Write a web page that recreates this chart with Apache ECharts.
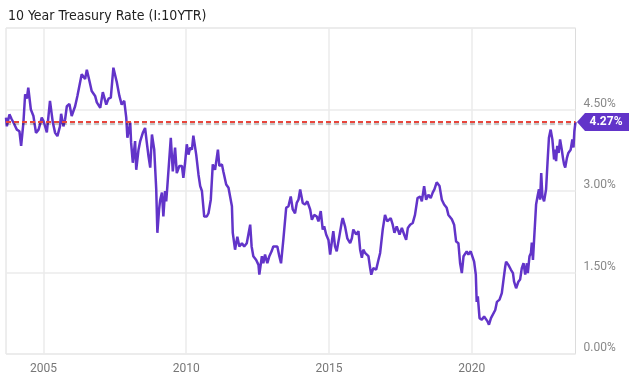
<!DOCTYPE html>
<html>
<head>
<meta charset="utf-8">
<script src="https://cdn.jsdelivr.net/npm/echarts@6/dist/echarts.min.js"></script>
<style>
html,body{margin:0;padding:0;background:#fff;}
#c{width:640px;height:382px;}
</style>
</head>
<body>
<div id="c"></div>
<script>
const title = "10 Year Treasury Rate (I:10YTR)";
const xTicks = [2005, 2010, 2015, 2020];
const yTicks = [0, 1.5, 3, 4.5];
const lastValue = 4.27;
const years = [
2003.69,2003.72,2003.81,2003.89,2003.95,2004.07,2004.16,2004.22,2004.30,2004.36,2004.42,2004.47,2004.56,2004.65,2004.74,2004.83,2004.88,2004.94,2005.00,2005.06,2005.12,2005.23,2005.33,2005.41,2005.49,2005.58,2005.62,2005.70,2005.76,2005.82,2005.91,2005.99,2006.11,2006.19,2006.34,2006.46,2006.52,2006.61,2006.69,2006.81,2006.87,2006.99,2007.08,2007.20,2007.28,2007.36,2007.45,2007.57,2007.66,2007.74,2007.83,2007.90,2007.94,2008.04,2008.07,2008.13,2008.21,2008.25,2008.33,2008.39,2008.48,2008.56,2008.62,2008.68,2008.74,2008.80,2008.88,2008.95,2008.99,2009.05,
2009.09,2009.15,2009.20,2009.26,2009.30,2009.34,2009.38,2009.46,2009.53,2009.61,2009.67,2009.76,2009.85,2009.90,2009.96,2010.02,2010.08,2010.14,2010.20,2010.25,2010.35,2010.43,2010.49,2010.55,2010.63,2010.72,2010.78,2010.86,2010.93,2011.01,2011.11,2011.16,2011.25,2011.30,2011.40,2011.48,2011.54,2011.60,2011.63,2011.71,2011.79,2011.86,2011.95,2012.03,2012.12,2012.18,2012.24,2012.29,2012.35,2012.45,2012.53,2012.56,2012.65,2012.70,2012.76,2012.84,2012.91,2012.99,2013.05,2013.11,2013.19,2013.26,2013.32,2013.40,2013.50,2013.58,2013.66,2013.73,2013.81,2013.87,2013.93,2013.99,2014.08,2014.16,2014.24,2014.34,2014.40,2014.48,2014.57,2014.63,2014.71,2014.78,2014.83,2014.90,2014.98,2015.04,2015.10,2015.15,2015.21,2015.27,2015.36,2015.45,2015.48,2015.56,2015.64,2015.74,2015.80,2015.85,2015.95,2016.03,2016.09,2016.15,2016.20,2016.26,2016.32,2016.38,2016.44,2016.48,2016.55,2016.65,2016.73,2016.79,2016.88,2016.96,2017.04,2017.11,2017.16,2017.23,2017.29,2017.37,2017.47,2017.55,2017.63,2017.70,2017.76,2017.84,2017.93,2018.01,2018.10,2018.19,2018.25,2018.33,2018.40,2018.48,2018.56,2018.63,2018.69,2018.77,2018.87,2018.95,2019.03,2019.12,2019.18,2019.24,2019.30,2019.38,2019.45,2019.53,2019.59,2019.65,2019.71,2019.76,2019.82,2019.88,2019.96,2020.03,2020.08,2020.14,2020.17,2020.21,2020.27,2020.35,2020.43,2020.50,2020.55,2020.60,2020.67,2020.74,2020.82,2020.88,2020.97,2021.05,2021.11,2021.17,2021.20,2021.28,2021.37,2021.44,2021.48,2021.55,2021.63,2021.69,2021.75,2021.81,2021.87,2021.93,2021.96,2022.02,2022.07,2022.10,2022.14,2022.18,2022.22,2022.25,2022.30,2022.35,2022.39,2022.43,2022.47,2022.53,2022.60,2022.65,2022.70,2022.76,2022.82,2022.88,2022.92,2022.95,2022.99,2023.04,2023.09,2023.15,2023.19,2023.23,2023.27,2023.33,2023.38,2023.46,2023.52,2023.56,2023.59,2023.63
];
const rates = [
4.35,4.19,4.41,4.32,4.26,4.13,4.10,3.83,4.26,4.78,4.70,4.90,4.50,4.38,4.07,4.13,4.22,4.35,4.29,4.19,4.08,4.66,4.26,4.07,4.01,4.19,4.42,4.19,4.32,4.56,4.60,4.38,4.56,4.75,5.15,5.06,5.23,5.03,4.84,4.75,4.63,4.53,4.82,4.59,4.70,4.72,5.27,5.00,4.75,4.59,4.66,4.35,3.98,4.26,3.89,3.52,3.92,3.39,3.76,3.92,4.07,4.16,3.89,3.64,3.43,4.04,3.76,3.03,2.23,2.66,
2.84,2.97,2.53,3.00,2.81,3.09,3.12,3.98,3.36,3.80,3.33,3.46,3.46,3.24,3.52,3.86,3.67,3.80,3.76,4.02,3.67,3.30,3.09,3.00,2.53,2.53,2.59,2.84,3.49,3.39,3.76,3.46,3.49,3.36,3.12,3.06,3.03,2.72,2.23,1.92,2.16,1.98,2.04,1.98,2.04,2.07,2.38,1.98,1.80,1.73,1.64,1.46,1.80,1.67,1.83,1.67,1.80,1.89,1.98,2.01,1.98,1.80,1.67,2.10,2.69,2.72,2.90,2.66,2.59,2.78,2.84,3.03,2.78,2.75,2.81,2.66,2.47,2.56,2.53,2.44,2.63,2.29,2.35,2.20,2.10,1.83,2.07,2.26,1.98,1.89,2.16,2.44,2.50,2.35,2.13,2.04,2.13,2.29,2.20,2.26,1.92,1.77,1.92,1.86,1.89,1.80,1.58,1.46,1.58,1.55,1.73,1.86,2.29,2.56,2.44,2.47,2.50,2.38,2.23,2.35,2.20,2.32,2.20,2.10,2.32,2.38,2.41,2.56,2.87,2.90,2.81,3.09,2.84,2.93,2.87,2.97,3.03,3.16,3.09,2.84,2.75,2.69,2.56,2.53,2.48,2.38,2.07,2.04,1.67,1.49,1.80,1.77,1.89,1.83,1.89,1.86,1.70,1.46,0.96,1.06,0.66,0.63,0.69,0.69,0.60,0.54,0.66,0.63,0.81,0.96,1.00,1.12,1.37,1.61,1.70,1.64,1.55,1.49,1.33,1.21,1.33,1.37,1.58,1.67,1.46,1.67,1.49,1.80,1.86,2.05,1.73,2.10,2.47,2.75,2.90,3.03,2.84,3.33,2.90,2.81,3.03,3.52,3.98,4.13,3.95,3.58,3.76,3.55,3.83,3.70,3.95,3.76,3.61,3.49,3.43,3.61,3.70,3.76,3.95,3.80,4.10,4.27
];

const purple = '#6234c9';
const chart = echarts.init(document.getElementById('c'), null, {renderer: 'canvas'});
const data = years.map((y, i) => [y, rates[i]]);
chart.setOption({
  animation: false,
  backgroundColor: '#fff',
  title: {
    text: title, left: 3, top: 4,
    textStyle: {fontFamily: '"DejaVu Sans Condensed", "DejaVu Sans"', fontSize: 14, fontWeight: 'normal', color: '#222'}
  },
  grid: {left: 6, right: 64.5, top: 28, bottom: 28, show: true, borderColor: '#dcdcdc', borderWidth: 1},
  xAxis: {
    type: 'value', min: years[0], max: years[years.length - 1],
    axisLine: {show: false},
    axisTick: {show: false, customValues: xTicks},
    axisLabel: {customValues: xTicks, formatter: v => String(Math.round(v)), color: '#777', fontFamily: 'Roboto', fontSize: 12, margin: 9},
    splitLine: {show: true, lineStyle: {color: '#ebebeb', width: 1.5}}
  },
  yAxis: {
    type: 'value', position: 'right', min: 0, max: 6, interval: 1.5,
    axisLine: {show: false}, axisTick: {show: false},
    axisLabel: {formatter: v => v.toFixed(2) + '%', color: '#888', fontFamily: 'Roboto', fontSize: 12, margin: 8, verticalAlign: 'bottom', showMaxLabel: false},
    splitLine: {show: true, lineStyle: {color: '#ebebeb', width: 1.5}}
  },
  series: [{
    type: 'line', data: data, showSymbol: false, symbol: 'none',
    lineStyle: {color: purple, width: 2.5},
    markLine: {
      silent: true, symbol: 'none',
      label: {show: false},
      lineStyle: {color: '#e8463c', type: [5, 3], width: 2, shadowColor: 'rgba(0,0,0,0.25)', shadowOffsetY: 2, shadowBlur: 1},
      data: [{yAxis: lastValue}]
    },
    markPoint: {
      silent: true,
      symbol: 'path://M0,9 L8,0 L52,0 L52,18 L8,18 Z',
      symbolSize: [52, 18],
      symbolOffset: [27.5, 0],
      itemStyle: {color: purple},
      label: {show: true, formatter: () => lastValue.toFixed(2) + '%', color: '#fff', fontWeight: 'bold', fontFamily: 'Roboto', fontSize: 12, offset: [3, 0]},
      data: [{coord: [years[years.length - 1], lastValue]}]
    }
  }]
});
</script>
</body>
</html>
